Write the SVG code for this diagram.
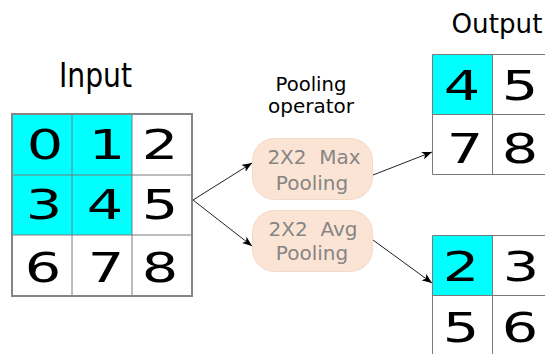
<svg xmlns="http://www.w3.org/2000/svg" width="545" height="354" viewBox="0 0 545 354">
  <style>
    .title { font-family: "DejaVu Sans", sans-serif; fill: #000; }
    .digit { font-family: "DejaVu Sans", sans-serif; font-size: 41px; fill: #000; text-anchor: middle; }
    .op { font-family: "DejaVu Sans", sans-serif; font-size: 19px; fill: #000; text-anchor: middle; }
    .pool { fill: #fce4d5; stroke: #f3d9c9; stroke-width: 1; }
    .pooltxt { font-family: "DejaVu Sans", sans-serif; font-size: 20px; fill: #858585; text-anchor: middle; }
    .hi { fill: #00ffff; }
    .cell { fill: #ffffff; }
    .grid { fill: none; stroke: #7a7a7a; stroke-width: 1; }
    .frame { fill: none; stroke: #858585; stroke-width: 2; }
    .edge { fill: none; stroke: #222; stroke-width: 1; marker-end: url(#arrow); }
  </style>
  <defs>
    <marker id="arrow" viewBox="0 0 10 8" refX="10" refY="4" markerWidth="10" markerHeight="8" markerUnits="userSpaceOnUse" orient="auto">
      <path d="M0,0 L10,4 L0,8 L2.5,4 z" fill="#000"/>
    </marker>
  </defs>

  <!-- Input feature map -->
  <g id="input">
    <text class="title" x="59" y="87" font-size="33" textLength="73" lengthAdjust="spacingAndGlyphs">Input</text>
    <rect class="cell" x="12" y="114" width="180" height="182"/>
    <rect class="hi" x="12" y="114" width="120" height="121"/>
    <path class="grid" d="M72,114 V296 M132,114 V296 M12,175 H192 M12,235 H192"/>
    <rect class="frame" x="12" y="114" width="180" height="182"/>
    <text class="digit" transform="translate(45 159) scale(1.4 1)">0</text>
    <text class="digit" transform="translate(107 159) scale(1.4 1)">1</text>
    <text class="digit" transform="translate(160 159) scale(1.4 1)">2</text>
    <text class="digit" transform="translate(44 219) scale(1.4 1)">3</text>
    <text class="digit" transform="translate(105 219) scale(1.4 1)">4</text>
    <text class="digit" transform="translate(160 219) scale(1.4 1)">5</text>
    <text class="digit" transform="translate(43 282) scale(1.4 1)">6</text>
    <text class="digit" transform="translate(106 282) scale(1.4 1)">7</text>
    <text class="digit" transform="translate(160 282) scale(1.4 1)">8</text>
  </g>

  <!-- Operator caption -->
  <g id="operator-label">
    <text class="op" x="311" y="91" textLength="71" lengthAdjust="spacingAndGlyphs">Pooling</text>
    <text class="op" x="311" y="113" textLength="86" lengthAdjust="spacingAndGlyphs">operator</text>
  </g>

  <!-- Pooling operators -->
  <g id="max-pool">
    <rect class="pool" x="252.5" y="138.5" width="120" height="61" rx="22" ry="22"/>
    <text class="pooltxt" x="314" y="164" xml:space="preserve">2X2  Max</text>
    <text class="pooltxt" x="312" y="190">Pooling</text>
  </g>
  <g id="avg-pool">
    <rect class="pool" x="252.5" y="210.5" width="120" height="61" rx="22" ry="22"/>
    <text class="pooltxt" x="313" y="236" xml:space="preserve">2X2  Avg</text>
    <text class="pooltxt" x="312" y="260">Pooling</text>
  </g>

  <!-- Max pooling result -->
  <g id="output-max">
    <text class="title" x="451.5" y="33" font-size="27" textLength="91" lengthAdjust="spacingAndGlyphs">Output</text>
    <rect class="cell" x="432.5" y="54.5" width="120" height="120"/>
    <rect class="hi" x="432.5" y="54.5" width="60" height="60"/>
    <path class="grid" d="M432.5,54.5 H552.5 V174.5 H432.5 Z M492.5,54.5 V174.5 M432.5,114.5 H552.5"/>
    <text class="digit" transform="translate(462 100) scale(1.4 1)">4</text>
    <text class="digit" transform="translate(520 100) scale(1.4 1)">5</text>
    <text class="digit" transform="translate(465 163) scale(1.4 1)">7</text>
    <text class="digit" transform="translate(520 163) scale(1.4 1)">8</text>
  </g>

  <!-- Average pooling result -->
  <g id="output-avg">
    <rect class="cell" x="432.5" y="235.5" width="120" height="121"/>
    <rect class="hi" x="432.5" y="235.5" width="60" height="60"/>
    <path class="grid" d="M432.5,356 V235.5 H552.5 M492.5,235.5 V356 M432.5,295.5 H552.5"/>
    <text class="digit" transform="translate(461 281) scale(1.4 1)">2</text>
    <text class="digit" transform="translate(521 281) scale(1.4 1)">3</text>
    <text class="digit" transform="translate(461 342) scale(1.4 1)">5</text>
    <text class="digit" transform="translate(520 342) scale(1.4 1)">6</text>
  </g>

  <!-- Connectors -->
  <g id="connectors">
    <path class="edge" d="M193,200 L252,163"/>
    <path class="edge" d="M193,200 L252,246"/>
    <path class="edge" d="M373,175 L432,152"/>
    <path class="edge" d="M373,240 L432,283"/>
  </g>
</svg>
